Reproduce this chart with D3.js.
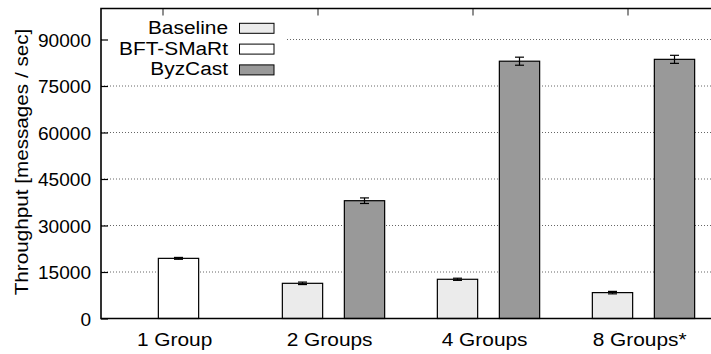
<!DOCTYPE html>
<html>
<head>
<meta charset="utf-8">
<script src="https://cdn.jsdelivr.net/npm/d3@7"></script>
<style>
  body { margin: 0; background: #fff; }
  svg text { font-family: "Liberation Sans", Arial, Helvetica, sans-serif; fill: #000; }
</style>
</head>
<body>
<div id="chart"></div>
<script>
// values
const groups = ["1 Group", "2 Groups", "4 Groups", "8 Groups*"];
const baseline = [null, 11350, 12650, 8350];
const baselineErr = [null, 400, 350, 400];
const bftsmart = [19400, null, null, null];
const bftsmartErr = [300, null, null, null];
const byzcast = [null, 38000, 83000, 83600];
const byzcastErr = [null, 900, 1300, 1300];
const yTicks = [0, 15000, 30000, 45000, 60000, 75000, 90000];

const series = [
  { name: "Baseline", values: baseline, err: baselineErr, fill: "#ebebeb", offset: -0.1 },
  { name: "BFT-SMaRt", values: bftsmart, err: bftsmartErr, fill: "#ffffff", offset: 0.1 },
  { name: "ByzCast", values: byzcast, err: byzcastErr, fill: "#999999", offset: 0.3 }
];

const width = 711;
const height = 354;
const margin = { top: 8.5, right: -10, bottom: 35.5, left: 101 };
const fontSize = "18px";
const stretch = 1.16; // gnuplot's font renders wider than Liberation Sans

const svg = d3
  .select("#chart")
  .append("svg")
  .attr("width", width)
  .attr("height", height);

const x = d3.scaleLinear().domain([-0.4, 3.6]).range([margin.left, margin.left + 4 * 155]);
const y = d3.scaleLinear().domain([0, 100000]).range([height - margin.bottom, margin.top]);
const barWidth = x(0.26) - x(0);

// text placed at (tx, ty) and stretched horizontally
function wideText(parent, tx, ty, anchor, label, sx) {
  return parent
    .append("g")
    .attr("transform", `translate(${tx},${ty}) scale(${sx},1)`)
    .append("text")
    .attr("text-anchor", anchor)
    .style("font-size", fontSize)
    .text(label);
}

// dotted grid
svg
  .append("g")
  .selectAll("line")
  .data(yTicks.filter((d) => d > 0))
  .enter()
  .append("line")
  .attr("x1", margin.left)
  .attr("x2", width)
  .attr("y1", (d) => y(d))
  .attr("y2", (d) => y(d))
  .attr("stroke", "#666")
  .attr("stroke-width", 1)
  .attr("stroke-dasharray", "1,2");

// bars
series.forEach((s) => {
  const rows = s.values
    .map((v, i) => ({ i: i, v: v, e: s.err[i] }))
    .filter((d) => d.v !== null);
  const g = svg.append("g");
  g.selectAll("rect")
    .data(rows)
    .enter()
    .append("rect")
    .attr("x", (d) => x(d.i + s.offset) - barWidth / 2)
    .attr("y", (d) => y(d.v))
    .attr("width", barWidth)
    .attr("height", (d) => y(0) - y(d.v))
    .attr("fill", s.fill)
    .attr("stroke", "#000")
    .attr("stroke-width", 1.2);

  const eb = g.selectAll(".err").data(rows).enter().append("g").attr("stroke", "#000").attr("stroke-width", 1.2);
  eb.append("line")
    .attr("x1", (d) => x(d.i + s.offset))
    .attr("x2", (d) => x(d.i + s.offset))
    .attr("y1", (d) => y(d.v - d.e))
    .attr("y2", (d) => y(d.v + d.e));
  [-1, 1].forEach((sign) => {
    eb.append("line")
      .attr("x1", (d) => x(d.i + s.offset) - 4.5)
      .attr("x2", (d) => x(d.i + s.offset) + 4.5)
      .attr("y1", (d) => y(d.v + sign * d.e))
      .attr("y2", (d) => y(d.v + sign * d.e));
  });
});

// legend (opaque box over the grid)
const legend = svg.append("g");
legend
  .append("rect")
  .attr("x", margin.left + 1)
  .attr("y", 12)
  .attr("width", 185)
  .attr("height", 70)
  .attr("fill", "#fff");
series.forEach((s, i) => {
  const cy = 28.3 + i * 20.8;
  wideText(legend, 228, cy + 5.5, "end", s.name, stretch);
  legend
    .append("rect")
    .attr("x", 239.5)
    .attr("y", cy - 5)
    .attr("width", 34.5)
    .attr("height", 10)
    .attr("fill", s.fill)
    .attr("stroke", "#000")
    .attr("stroke-width", 1);
});

// y axis
const yAxis = svg
  .append("g")
  .attr("transform", `translate(${margin.left},0)`)
  .call(
    d3.axisLeft(y)
      .tickValues(yTicks)
      .tickFormat(d3.format("d"))
      .tickSizeInner(-7)
      .tickSizeOuter(0)
      .tickPadding(10)
  );
yAxis.attr("font-family", null);
yAxis.select(".domain").remove();
yAxis.selectAll(".tick line").attr("stroke", "#000").attr("stroke-width", 1.2);
yAxis.selectAll(".tick text").remove();
yAxis.selectAll(".tick").each(function (d) {
  wideText(d3.select(this), -10, 6.5, "end", d3.format("d")(d), 1.06);
});

// top ticks at group positions
svg
  .append("g")
  .selectAll("line")
  .data(groups)
  .enter()
  .append("line")
  .attr("x1", (d, i) => x(i))
  .attr("x2", (d, i) => x(i))
  .attr("y1", margin.top)
  .attr("y2", margin.top + 7)
  .attr("stroke", "#444")
  .attr("stroke-width", 1.2);

// group labels
const xLabels = svg.append("g");
groups.forEach((name, i) => {
  wideText(xLabels, x(i + 0.075), 346, "middle", name, stretch);
});

// frame: left, top, bottom
svg
  .append("path")
  .attr("d", `M${width},${y(0)}H${margin.left}V${margin.top}H${width}`)
  .attr("fill", "none")
  .attr("stroke", "#000")
  .attr("stroke-width", 1.6);

// y label
svg
  .append("g")
  .attr("transform", "translate(28,162) rotate(-90) scale(1.15,1)")
  .append("text")
  .attr("text-anchor", "middle")
  .style("font-size", fontSize)
  .text("Throughput [messages / sec]");
</script>
</body>
</html>
